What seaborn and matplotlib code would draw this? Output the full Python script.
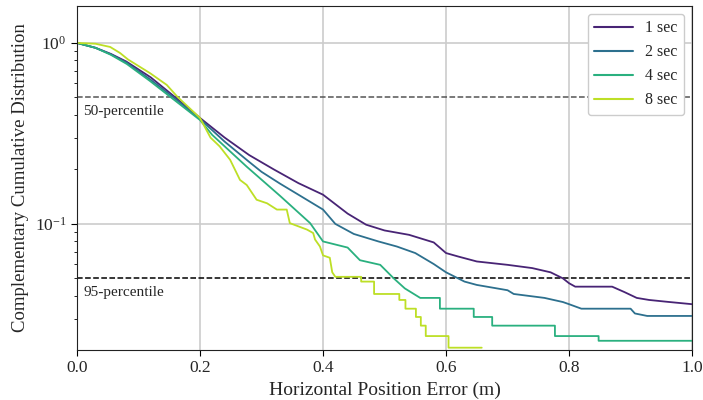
import numpy as np
import pandas as pd
import matplotlib
matplotlib.use("Agg")
import matplotlib.pyplot as plt
import seaborn as sns

# CCDF of horizontal position error
x_1s = [0, 0.03, 0.055, 0.08, 0.12, 0.16, 0.20, 0.24, 0.28, 0.32, 0.36, 0.40, 0.44, 0.47, 0.50, 0.54,
        0.58, 0.60, 0.62, 0.65, 0.70, 0.74, 0.77, 0.79, 0.80, 0.81, 0.87, 0.89, 0.91, 0.93, 0.96, 1.0]
y_1s = [1.0, 0.94, 0.87, 0.79, 0.645, 0.50, 0.385, 0.30, 0.24, 0.20, 0.168, 0.145, 0.114, 0.099, 0.092, 0.087,
        0.079, 0.069, 0.066, 0.062, 0.0594, 0.057, 0.054, 0.050, 0.047, 0.045, 0.045, 0.042, 0.039, 0.038, 0.0371, 0.036]

x_2s = [0, 0.03, 0.055, 0.08, 0.12, 0.16, 0.20, 0.24, 0.28, 0.30, 0.33, 0.36, 0.40, 0.42, 0.45, 0.49, 0.52,
        0.55, 0.58, 0.60, 0.63, 0.65, 0.70, 0.71, 0.76, 0.79, 0.80, 0.82, 0.90, 0.907, 0.927, 1.0]
y_2s = [1.0, 0.94, 0.865, 0.78, 0.625, 0.49, 0.38, 0.285, 0.22, 0.194, 0.167, 0.145, 0.12, 0.10, 0.088, 0.080, 0.075,
        0.069, 0.060, 0.054, 0.048, 0.046, 0.043, 0.041, 0.039, 0.037, 0.036, 0.034, 0.034, 0.032, 0.031, 0.031]

x_4s = [0, 0.03, 0.055, 0.081, 0.119, 0.163, 0.20, 0.22, 0.276, 0.33, 0.379, 0.40, 0.44, 0.46, 0.493, 0.515,
        0.533, 0.558, 0.59, 0.59, 0.645, 0.645, 0.675, 0.675, 0.777, 0.777, 0.848, 0.848, 1.0]
y_4s = [1.0, 0.94, 0.86, 0.765, 0.615, 0.47, 0.375, 0.31, 0.207, 0.143, 0.101, 0.08, 0.074, 0.063, 0.0594, 0.050,
        0.044, 0.039, 0.039, 0.034, 0.034, 0.0306, 0.0306, 0.0274, 0.0274, 0.024, 0.024, 0.0226, 0.0226]

x_8s = [0, 0.03, 0.054, 0.07, 0.083, 0.119, 0.146, 0.163, 0.20, 0.217, 0.232, 0.249, 0.265, 0.276, 0.292,
        0.309, 0.325, 0.341, 0.346, 0.374, 0.384, 0.387, 0.395, 0.40, 0.411, 0.415, 0.42, 0.462, 0.462, 0.483,
        0.483, 0.524, 0.524, 0.534, 0.534, 0.551, 0.551, 0.559, 0.559, 0.567, 0.567, 0.604, 0.604, 0.658]
y_8s = [1.0, 0.99, 0.95, 0.88, 0.81, 0.68, 0.586, 0.505, 0.385, 0.30, 0.268, 0.226, 0.175, 0.164, 0.136,
        0.13, 0.12, 0.12, 0.101, 0.093, 0.089, 0.082, 0.075, 0.067, 0.065, 0.054, 0.051, 0.051, 0.048, 0.048,
        0.041, 0.041, 0.038, 0.038, 0.034, 0.034, 0.0306, 0.0306, 0.0274, 0.0274, 0.024, 0.024, 0.0207, 0.0207]

labels = ["1 sec", "2 sec", "4 sec", "8 sec"]
series = [(x_1s, y_1s), (x_2s, y_2s), (x_4s, y_4s), (x_8s, y_8s)]

frames = []
for lab, (xs, ys) in zip(labels, series):
    frames.append(pd.DataFrame({"err": xs, "ccdf": ys, "window": lab}))
df = pd.concat(frames, ignore_index=True)

colors = [plt.cm.viridis(v) for v in np.linspace(0.1, 0.9, 4)]
palette = dict(zip(labels, colors))

sns.set_style("whitegrid", {"grid.color": "#cccccc", "axes.edgecolor": "#222222"})
plt.rcParams["font.family"] = ["Liberation Serif", "DejaVu Serif"]
plt.rcParams["mathtext.fontset"] = "stix"
plt.rcParams["xtick.bottom"] = True
plt.rcParams["ytick.left"] = True

fig = plt.figure(figsize=(7.03, 4.0), dpi=100)
ax = fig.add_axes([0.1095, 0.125, 0.875, 0.86])

sns.lineplot(data=df, x="err", y="ccdf", hue="window", palette=palette,
             estimator=None, sort=False, units="window", lw=1.3, ax=ax)

ax.axhline(0.5, color="#555555", ls="--", lw=1.1, zorder=1)
ax.axhline(0.05, color="black", ls="--", lw=1.1, zorder=1)
ax.text(0.01, 0.42, "50-percentile", fontsize=11, va="center", ha="left")
ax.text(0.01, 0.042, "95-percentile", fontsize=11, va="center", ha="left")

ax.set_yscale("log")
ax.set_xlim(0, 1.0)
ax.set_ylim(0.0201, 1.6)
ax.set_xticks([0, 0.2, 0.4, 0.6, 0.8, 1.0])
ax.grid(True, which="major", lw=1.2)
ax.grid(False, which="minor")
ax.tick_params(axis="both", which="major", labelsize=12.5, length=4, color="black")
ax.tick_params(axis="y", which="minor", length=2.5, color="black")
ax.set_xlabel("Horizontal Position Error (m)", fontsize=14)
ax.set_ylabel("Complementary Cumulative Distribution", fontsize=13.5)

leg = ax.legend(loc="upper right", fontsize=11.5, title=None, handlelength=2.4,
                frameon=True, framealpha=1.0)
leg.get_frame().set_edgecolor("#cccccc")
leg.set_zorder(5)
for line in leg.get_lines():
    line.set_linewidth(1.5)

fig.savefig("out.png", dpi=100)
